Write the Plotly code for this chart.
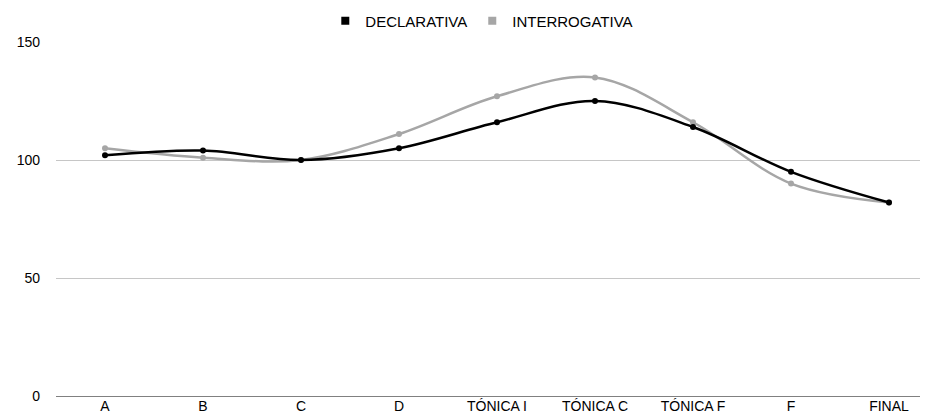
import plotly.graph_objects as go

categories = ["A", "B", "C", "D", "TÓNICA I", "TÓNICA C", "TÓNICA F", "F", "FINAL"]
declarativa = [102, 104, 100, 105, 116, 125, 114, 95, 82]
interrogativa = [105, 101, 100, 111, 127, 135, 116, 90, 82]
y_ticks = [0, 50, 100, 150]

FONT = "Liberation Sans, Arial, sans-serif"
BLACK = "#000000"
GRAY = "#a6a6a6"

W, H = 920, 403  # page body adds an 8px offset

fig = go.Figure()
fig.add_trace(go.Scatter(x=categories, y=interrogativa, mode="lines+markers",
                         line=dict(color=GRAY, width=2.5, shape="spline", smoothing=1.0),
                         marker=dict(color=GRAY, size=6), showlegend=False))
fig.add_trace(go.Scatter(x=categories, y=declarativa, mode="lines+markers",
                         line=dict(color=BLACK, width=2.5, shape="spline", smoothing=1.0),
                         marker=dict(color=BLACK, size=6), showlegend=False))
fig.add_trace(go.Scatter(x=[None], y=[None], mode="markers", name="DECLARATIVA",
                         marker=dict(symbol="square", color=BLACK, size=8)))
fig.add_trace(go.Scatter(x=[None], y=[None], mode="markers", name="INTERROGATIVA",
                         marker=dict(symbol="square", color=GRAY, size=8)))

fig.update_layout(
    width=W, height=H,
    margin=dict(l=48, r=0, t=34, b=15, autoexpand=False),
    paper_bgcolor="white", plot_bgcolor="white",
    font=dict(family=FONT, size=14, color="#000000"),
    legend=dict(orientation="h", x=0.515, xanchor="center", y=1 - 13 / H, yanchor="middle",
                yref="container", xref="container", font=dict(size=15), itemwidth=30,
                traceorder="normal", bgcolor="rgba(0,0,0,0)"),
    showlegend=True,
)
fig.update_xaxes(type="category", categoryorder="array", categoryarray=categories,
                 range=[-0.5, 8.398], showgrid=False, showline=False, zeroline=False,
                 ticks="", tickfont=dict(size=14), ticklabelstandoff=0, automargin=False,
                 fixedrange=True)
fig.update_yaxes(range=[0, 150], tickvals=y_ticks, showgrid=True, gridcolor="#c6c6c6",
                 gridwidth=1, zeroline=True, zerolinecolor="#808080", zerolinewidth=1,
                 showline=False, ticks="", tickfont=dict(size=14), ticklabelstandoff=15,
                 automargin=False, fixedrange=True)

fig.write_html("out.html")
